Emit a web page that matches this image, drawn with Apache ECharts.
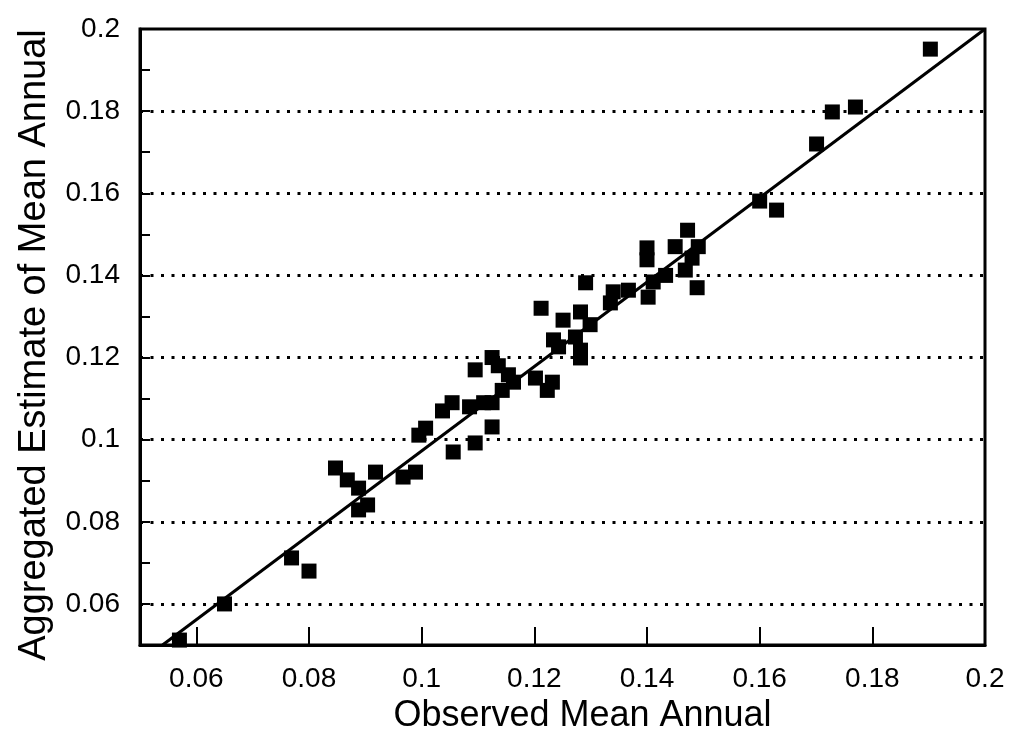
<!DOCTYPE html>
<html>
<head>
<meta charset="utf-8">
<script src="https://cdn.jsdelivr.net/npm/echarts@6/dist/echarts.min.js"></script>
<style>
	html, body { margin: 0; padding: 0; background: #fff; }
	#chart { width: 1014px; height: 746px; }
</style>
</head>
<body>
<div id="chart"></div>
<script>
	// observed (x) vs aggregated estimate (y)
	var observed = [0.057, 0.065, 0.0769, 0.080, 0.0847, 0.0868, 0.0888, 0.0888, 0.0904, 0.0918,
		0.0967, 0.0989, 0.0995, 0.1007, 0.1037, 0.1054, 0.1056, 0.1085, 0.1095, 0.1095,
		0.1110, 0.1125, 0.1125, 0.1125, 0.1136, 0.1143, 0.1154, 0.1163, 0.1202, 0.1212,
		0.1223, 0.1232, 0.1234, 0.1243, 0.1251, 0.1273, 0.1282, 0.1282, 0.1282, 0.1291,
		0.1299, 0.1335, 0.1340, 0.1367, 0.1400, 0.1400, 0.1402, 0.1411, 0.1433, 0.1450,
		0.1468, 0.1472, 0.1480, 0.1489, 0.1491, 0.1600, 0.1630, 0.1701, 0.1729, 0.1770,
		0.1903];
	var estimate = [0.0512, 0.060, 0.0712, 0.068, 0.0931, 0.0902, 0.0882, 0.0829, 0.0841, 0.0921,
		0.0909, 0.0921, 0.1011, 0.1028, 0.1070, 0.1090, 0.0970, 0.1080, 0.1170, 0.0992,
		0.1090, 0.1090, 0.1031, 0.1200, 0.1180, 0.1120, 0.1158, 0.1140, 0.1150, 0.1320,
		0.1120, 0.1140, 0.1243, 0.1226, 0.1291, 0.1250, 0.1311, 0.1218, 0.1199, 0.1382,
		0.1280, 0.1333, 0.1360, 0.1364, 0.1467, 0.1438, 0.1347, 0.1384, 0.1400, 0.1470,
		0.1413, 0.1510, 0.1442, 0.1370, 0.1470, 0.1581, 0.1559, 0.1720, 0.1798, 0.1810,
		0.1951];

	// fitted line end points
	var fitLine = [[0.054, 0.05], [0.2, 0.2]];

	var xTicks = [0.06, 0.08, 0.1, 0.12, 0.14, 0.16, 0.18];
	var xLabels = [0.06, 0.08, 0.1, 0.12, 0.14, 0.16, 0.18, 0.2];
	var yLabels = [0.06, 0.08, 0.1, 0.12, 0.14, 0.16, 0.18, 0.2];
	var yTicks = [0.06, 0.07, 0.08, 0.09, 0.1, 0.11, 0.12, 0.13, 0.14, 0.15, 0.16, 0.17, 0.18, 0.19];
	var gridValues = [0.06, 0.08, 0.1, 0.12, 0.14, 0.16, 0.18];

	var points = [];
	for (var i = 0; i < observed.length; i++) {
		points.push([observed[i], estimate[i]]);
	}

	var font = 'Liberation Sans, Arial, Helvetica, sans-serif';
	var fmt = function(v) { return String(+v.toFixed(2)); };

	var chart = echarts.init(document.getElementById('chart'), null, { renderer: 'canvas' });

	var option = {
		backgroundColor: '#fff',
		animation: false,
		grid: {
			left: 140, right: 29, top: 29, bottom: 101,
			show: true,
			borderColor: '#000',
			borderWidth: 3
		},
		xAxis: {
			type: 'value',
			min: 0.05,
			max: 0.2,
			name: 'Observed Mean Annual',
			nameLocation: 'middle',
			nameGap: 52,
			nameTextStyle: { fontFamily: font, fontSize: 36, color: '#000', padding: [0, 0, 0, 40] },
			axisLine: { show: true, onZero: false, lineStyle: { color: '#000', width: 3 } },
			axisTick: { show: true, inside: true, length: 18, customValues: xTicks, lineStyle: { color: '#000', width: 2 } },
			axisLabel: { customValues: xLabels, formatter: fmt, fontFamily: font, fontSize: 28, color: '#000', margin: 20 },
			splitLine: { show: false }
		},
		yAxis: {
			type: 'value',
			min: 0.05,
			max: 0.2,
			name: 'Aggregated Estimate of Mean Annual',
			nameLocation: 'middle',
			nameGap: 86,
			nameTextStyle: { fontFamily: font, fontSize: 38, color: '#000', padding: [0, 16, 0, 0] },
			axisLine: { show: true, onZero: false, lineStyle: { color: '#000', width: 3 } },
			axisTick: { show: true, inside: true, length: 10, customValues: yTicks, lineStyle: { color: '#000', width: 2 } },
			axisLabel: { customValues: yLabels, formatter: fmt, fontFamily: font, fontSize: 28, color: '#000', margin: 20 },
			splitLine: { show: false }
		},
		series: [{
			type: 'line',
			data: fitLine,
			showSymbol: false,
			symbol: 'none',
			lineStyle: { color: '#000', width: 3 },
			z: 3,
			markLine: {
				silent: true,
				symbol: 'none',
				label: { show: false },
				lineStyle: { color: '#000', width: 3, type: [3, 7.5] },
				data: gridValues.map(function(v) { return { yAxis: v }; })
			}
		}, {
			type: 'scatter',
			data: points,
			symbol: 'rect',
			symbolSize: 15,
			itemStyle: { color: '#000', opacity: 1 },
			clip: false,
			z: 4
		}]
	};

	chart.setOption(option);
</script>
</body>
</html>
